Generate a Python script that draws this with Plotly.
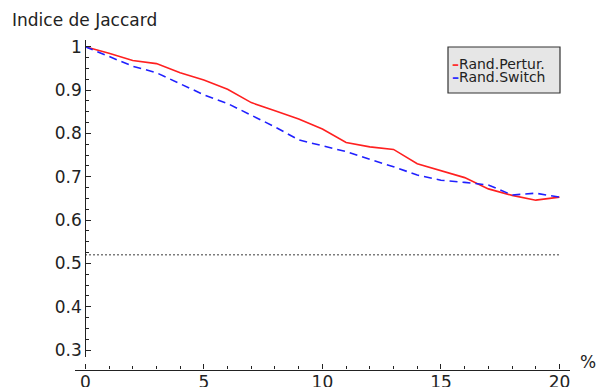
import plotly.graph_objects as go

# Data
pct = list(range(0, 21))
rand_pertur = [1.000, 0.985, 0.968, 0.961, 0.940, 0.923, 0.902, 0.871, 0.852, 0.833,
               0.810, 0.779, 0.769, 0.763, 0.730, 0.714, 0.698, 0.672, 0.657, 0.646, 0.653]
rand_switch = [1.000, 0.977, 0.955, 0.940, 0.915, 0.889, 0.869, 0.842, 0.815, 0.785,
               0.771, 0.758, 0.740, 0.723, 0.704, 0.692, 0.687, 0.681, 0.658, 0.662, 0.653]
baseline_x = [0, 20]
baseline_y = [0.52, 0.52]

x_tickvals = [0, 5, 10, 15, 20]
x_ticktext = ["0", "5", "10", "15", "20"]
y_tickvals = [0.3, 0.4, 0.5, 0.6, 0.7, 0.8, 0.9, 1.0]
y_ticktext = ["0.3", "0.4", "0.5", "0.6", "0.7", "0.8", "0.9", "1"]

W, H = 597, 387
FONT = "DejaVu Sans"
AX = "#222222"

fig = go.Figure()
fig.add_trace(go.Scatter(x=pct, y=rand_pertur, mode="lines", name="Rand.Pertur.",
                         line=dict(color="#ff2020", width=1.6)))
fig.add_trace(go.Scatter(x=pct, y=rand_switch, mode="lines", name="Rand.Switch",
                         line=dict(color="#2020ff", width=1.6, dash="8px,5px")))
fig.add_trace(go.Scatter(x=baseline_x, y=baseline_y, mode="lines", name="base",
                         line=dict(color="#444444", width=1.4, dash="1.4px,2.6px")))

x0px, x1px = 75, 569.5
zero_px, px_per_unit = 85.3, 23.71
ytop_px, ybot_px = 40, 357
y1_px, px_per_tenth = 46.7, 43.35

def xval(px):
    return (px - zero_px) / px_per_unit

def yval(py):
    return 1 - (py - y1_px) / (px_per_tenth * 10)

fig.update_layout(
    width=W, height=H,
    margin=dict(l=0, r=0, t=0, b=0, autoexpand=False),
    paper_bgcolor="white", plot_bgcolor="white",
    showlegend=False,
    font=dict(family=FONT, size=17, color=AX),
    xaxis=dict(
        domain=[x0px / W, x1px / W],
        range=[xval(x0px), xval(x1px)],
        anchor="free", position=(H - 369.5) / H,
        automargin=False,
        showline=True, linecolor=AX, linewidth=1.4,
        showgrid=False, zeroline=False,
        ticks="inside", ticklen=5, tickwidth=1, tickcolor=AX,
        tickvals=x_tickvals, ticktext=x_ticktext,
        ticklabelstandoff=-3,
        tickfont=dict(family=FONT, size=17, color=AX),
        minor=dict(ticks="inside", dtick=1, ticklen=3, tickwidth=1, tickcolor=AX),
    ),
    yaxis=dict(
        domain=[(H - ybot_px) / H, (H - ytop_px) / H],
        range=[yval(ybot_px), yval(ytop_px)],
        anchor="free", position=zero_px / W,
        automargin=False,
        showline=True, linecolor=AX, linewidth=1.2,
        showgrid=False, zeroline=False,
        ticks="inside", ticklen=5, tickwidth=1, tickcolor=AX,
        tickvals=y_tickvals, ticktext=y_ticktext,
        tickfont=dict(family=FONT, size=17, color=AX),
        minor=dict(ticks="inside", dtick=0.025, ticklen=3, tickwidth=1, tickcolor=AX),
    ),
)

# Axis label and unit
fig.add_annotation(text="Indice de Jaccard", xref="paper", yref="paper",
                   x=10 / W, y=1 - 20 / H, xanchor="left", yanchor="middle",
                   showarrow=False, font=dict(family=FONT, size=17, color=AX))
fig.add_annotation(text="%", xref="paper", yref="paper",
                   x=588 / W, y=1 - 362 / H, xanchor="center", yanchor="middle",
                   showarrow=False, font=dict(family=FONT, size=17, color=AX))

# Legend box
fig.add_shape(type="rect", xref="paper", yref="paper",
              x0=448 / W, x1=560 / W, y0=1 - 93 / H, y1=1 - 47 / H,
              fillcolor="#e6e6e6", line=dict(color="#333333", width=1.2), layer="above")
fig.add_annotation(text="<span style='color:#ff3030'><b>–</b></span>Rand.Pertur.",
                   xref="paper", yref="paper", x=451 / W, y=1 - 63.5 / H,
                   xanchor="left", yanchor="middle", showarrow=False, height=12,
                   borderpad=0,
                   font=dict(family=FONT, size=14, color=AX))
fig.add_annotation(text="<span style='color:#3030ff'><b>–</b></span>Rand.Switch",
                   xref="paper", yref="paper", x=451 / W, y=1 - 77 / H,
                   xanchor="left", yanchor="middle", showarrow=False, height=12,
                   borderpad=0,
                   font=dict(family=FONT, size=14, color=AX))

fig.write_html("out.html")
